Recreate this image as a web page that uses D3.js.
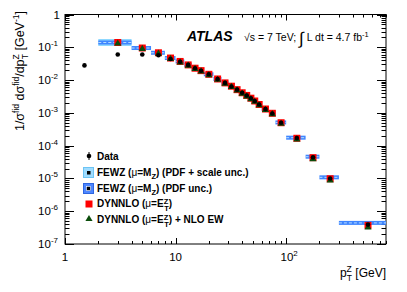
<!DOCTYPE html>
<meta charset="utf-8">
<style>
body { margin: 0; background: #fff; font-family: "Liberation Sans", Helvetica, Arial, sans-serif; }
.leg { font-size: 10px; font-weight: bold; }
</style>
<svg width="407" height="292"></svg>
<script src="https://cdn.jsdelivr.net/npm/d3@7"></script>
<script>

// theory bins (GeV)
var binLo = [2,4,6,8,10,12,14,16,18,22,26,30,34,38,42,46,50,54,60,70,80,100,150,200,300];
var binHi = [4,6,8,10,12,14,16,18,22,26,30,34,38,42,46,50,54,60,70,80,100,150,200,300,800];
var fewz   = [0.14,0.095,0.068,0.047,0.037,0.029,0.023,0.0194,0.015,0.0108,0.0082,0.0065,0.0051,0.0041,0.0034,0.0028,0.0023,0.0018,0.00132,0.00098,5.1e-4,1.75e-4,4.6e-5,1.08e-5,4.4e-7];
var dynnlo = [0.14,0.095,0.068,0.047,0.037,0.029,0.023,0.0194,0.015,0.0108,0.0082,0.0065,0.0051,0.0041,0.0034,0.0028,0.0023,0.0018,0.00131,0.00097,5.0e-4,1.68e-4,4.3e-5,9.8e-6,3.7e-7];
var dynnloEW = [0.135,0.092,0.066,0.046,0.036,0.0285,0.0226,0.019,0.0147,0.0106,0.008,0.0064,0.005,0.004,0.0033,0.0027,0.00225,0.00176,0.00128,0.00094,4.8e-4,1.6e-4,4.0e-5,9.0e-6,3.3e-7];
// data points
var dataPt = [1.5,3,5,7,9,11,13,15,17,20,24,28,32,36,40,44,48,52,57,65,75,90,125,175,250,550];
var dataVal = [0.028,0.06,0.06,0.057,0.044,0.036,0.029,0.023,0.0192,0.015,0.0107,0.0082,0.0064,0.0051,0.0041,0.0034,0.0028,0.0023,0.0018,0.0013,0.00096,5.0e-4,1.7e-4,4.4e-5,1.0e-5,3.9e-7];

var svg = d3.select("svg");
var mLeft = 65, mRight = 386, mTop = 14.5, mBottom = 244;

var x = d3.scaleLog().domain([1, 800]).range([mLeft, mRight]);
var y = d3.scaleLog().domain([1e-7, 1]).range([mBottom, mTop]);

function isMajor(v) { return Math.abs(Math.log10(v) - Math.round(Math.log10(v))) < 1e-6; }

// frame
svg.append("rect").attr("x", mLeft).attr("y", mTop).attr("width", mRight - mLeft).attr("height", mBottom - mTop)
  .attr("fill", "none").attr("stroke", "#000").attr("stroke-width", 1);

var g = svg.append("g").attr("stroke", "#000").attr("stroke-width", 1);

x.ticks().forEach(function(v) {
  if (v < 1 || v > 800) return;
  var L = isMajor(v) ? 6 : 3;
  var px = Math.round(x(v)) + 0.5;
  g.append("line").attr("x1", px).attr("x2", px).attr("y1", mBottom).attr("y2", mBottom - L);
  g.append("line").attr("x1", px).attr("x2", px).attr("y1", mTop).attr("y2", mTop + L);
});
y.ticks().forEach(function(v) {
  var L = isMajor(v) ? 9 : 4.5;
  var py = Math.round(y(v)) + 0.5;
  g.append("line").attr("x1", mLeft).attr("x2", mLeft + L).attr("y1", py).attr("y2", py);
  g.append("line").attr("x1", mRight).attr("x2", mRight - L).attr("y1", py).attr("y2", py);
});

// y tick labels
var yLabels = [0,-1,-2,-3,-4,-5,-6,-7];
yLabels.forEach(function(e) {
  var t = svg.append("text").attr("font-size", 11.5)
    .attr("text-anchor", "end").attr("y", y(Math.pow(10, e)) + 4);
  if (e === 0) {
    t.attr("x", 60).text("1");
  } else {
    t.attr("x", 58);
    t.append("tspan").text("10");
    t.append("tspan").attr("font-size", 8).attr("dy", -5).text(e);
  }
});
// x tick labels
var xLabels = [0,1,2];
xLabels.forEach(function(e) {
  var t = svg.append("text").attr("font-size", 11.5).attr("text-anchor", "middle")
    .attr("x", x(Math.pow(10, e)) + (e === 2 ? 3 : 0)).attr("y", 261);
  if (e === 0) t.text("1");
  else if (e === 1) t.text("10");
  else { t.append("tspan").text("10"); t.append("tspan").attr("font-size", 8).attr("dy", -5).text("2"); }
});

// axis titles
var xt = svg.append("text").attr("font-size", 12).attr("text-anchor", "end").attr("x", 386).attr("y", 277);
xt.append("tspan").text("p");
xt.append("tspan").attr("font-size", 8.5).attr("dy", -5).text("Z");
xt.append("tspan").attr("font-size", 8.5).attr("dx", -5).attr("dy", 9).text("T");
xt.append("tspan").attr("dy", -4).text(" [GeV]");

var yt = svg.append("text").attr("font-size", 12.5).attr("text-anchor", "end")
  .attr("transform", "translate(24,11) rotate(-90)");
yt.append("tspan").text("1/σ");
yt.append("tspan").attr("font-size", 8.5).attr("dy", -5).text("fid");
yt.append("tspan").attr("dy", 5).text(" dσ");
yt.append("tspan").attr("font-size", 8.5).attr("dy", -5).text("fid");
yt.append("tspan").attr("dy", 5).text("/dp");
yt.append("tspan").attr("font-size", 8.5).attr("dy", -5).text("Z");
yt.append("tspan").attr("font-size", 8.5).attr("dx", -5).attr("dy", 9).text("T");
yt.append("tspan").attr("dy", -4).text(" [GeV");
yt.append("tspan").attr("font-size", 8.5).attr("dy", -5).text("-1");
yt.append("tspan").attr("dy", 5).text("]");

// FEWZ bands
var bands = svg.append("g");
binLo.forEach(function(lo, i) {
  var x0 = x(lo), x1 = x(binHi[i]), yc = y(fewz[i]);
  if (i === 0) {
    bands.append("rect").attr("x", x0).attr("width", x1 - x0).attr("y", yc - 3.5).attr("height", 7).attr("fill", "#8fd8ff");
  }
  bands.append("rect").attr("x", x0).attr("width", x1 - x0).attr("y", yc - 2).attr("height", 4).attr("fill", "#3f86ff");
  bands.append("line").attr("x1", x0).attr("x2", x1).attr("y1", yc).attr("y2", yc)
    .attr("stroke", "#b8dcff").attr("stroke-width", 1).attr("stroke-dasharray", "3,2");
});

// DYNNLO squares and triangles
var marks = svg.append("g");
binLo.forEach(function(lo, i) {
  var xc = x((lo + binHi[i]) / 2);
  marks.append("rect").attr("x", xc - 3.5).attr("y", y(dynnlo[i]) - 3.5).attr("width", 7).attr("height", 7).attr("fill", "#ff0000");
});
var tri = d3.symbol().type(d3.symbolTriangle).size(22);
binLo.forEach(function(lo, i) {
  var xc = x((lo + binHi[i]) / 2);
  marks.append("path").attr("d", tri).attr("transform", "translate(" + xc + "," + (y(dynnloEW[i]) + 0.5) + ")").attr("fill", "#0b4d0b");
});

// data
dataPt.forEach(function(p, i) {
  marks.append("circle").attr("cx", x(p)).attr("cy", y(dataVal[i])).attr("r", 2.3).attr("fill", "#000");
});

// ATLAS label
svg.append("text").attr("x", 187).attr("y", 41).attr("font-size", 14).attr("font-weight", "bold")
  .attr("font-style", "italic").text("ATLAS");
var lum = svg.append("text").attr("x", 244).attr("y", 41).attr("font-size", 10.5);
lum.append("tspan").text("√s = 7 TeV;  ");
lum.append("tspan").attr("font-size", 17).attr("dy", 3).text("∫");
lum.append("tspan").attr("dy", -3).text(" L dt = 4.7 fb");
lum.append("tspan").attr("font-size", 7.5).attr("dy", -4).text("-1");

// legend
var leg = svg.append("g");
leg.append("line").attr("x1", 89).attr("x2", 89).attr("y1", 152).attr("y2", 160).attr("stroke", "#000");
leg.append("circle").attr("cx", 89).attr("cy", 156).attr("r", 2.3).attr("fill", "#000");
leg.append("text").attr("class", "leg").attr("x", 97).attr("y", 159.5).text("Data");

leg.append("rect").attr("x", 83.5).attr("y", 167.5).attr("width", 10).attr("height", 10).attr("fill", "#9fdcff").attr("stroke", "#6cc4f4");
leg.append("rect").attr("x", 87).attr("y", 171).attr("width", 3.5).attr("height", 3.5).attr("fill", "#000");
leg.append("rect").attr("x", 83.5).attr("y", 183.5).attr("width", 10).attr("height", 10).attr("fill", "#4d86ff").attr("stroke", "#2e66e0");
leg.append("rect").attr("x", 86.5).attr("y", 186.5).attr("width", 4).attr("height", 4).attr("fill", "#000").attr("stroke", "#fff").attr("stroke-width", 0.6);
leg.append("rect").attr("x", 85.5).attr("y", 200.5).attr("width", 7).attr("height", 7).attr("fill", "#ff0000");
leg.append("path").attr("d", tri).attr("transform", "translate(89,219)").attr("fill", "#0b4d0b");

function legText(yy, parts) {
  var t = leg.append("text").attr("class", "leg").attr("x", 97).attr("y", yy);
  parts.forEach(function(p) {
    var s = t.append("tspan").text(p[0]);
    if (p[1]) s.attr("font-size", 7.5);
    if (p[2]) s.attr("dy", p[2]);
    if (p[3]) s.attr("dx", p[3]);
    if (p[4]) s.attr("font-weight", "normal");
  });
}
legText(176, [["FEWZ ("], ["μ", 0, 0, 0, 1], ["=M"], ["Z", 1, 3], [") (PDF + scale unc.)", 0, -3]]);
legText(192, [["FEWZ ("], ["μ", 0, 0, 0, 1], ["=M"], ["Z", 1, 3], [") (PDF unc.)", 0, -3]]);
legText(207, [["DYNNLO ("], ["μ", 0, 0, 0, 1], ["=E"], ["Z", 1, -3], ["T", 1, 7, -4], [")", 0, -4]]);
legText(223, [["DYNNLO ("], ["μ", 0, 0, 0, 1], ["=E"], ["Z", 1, -3], ["T", 1, 7, -4], [") + NLO EW", 0, -4]]);

</script>
